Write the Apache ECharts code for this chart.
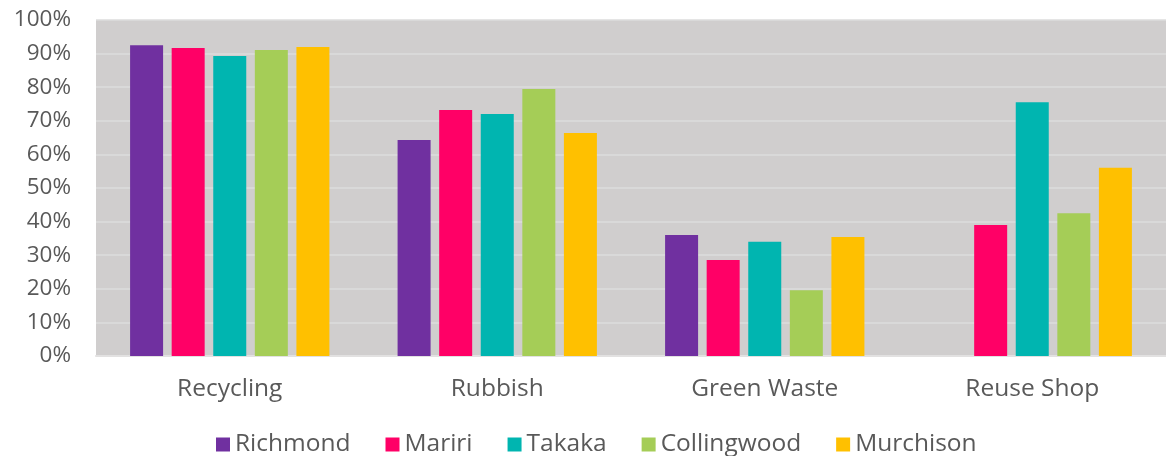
<!DOCTYPE html>
<html>
<head>
<meta charset="utf-8">
<script src="https://cdn.jsdelivr.net/npm/echarts@6/dist/echarts.min.js"></script>
<style>html,body{margin:0;padding:0;background:#fff;}#c{width:1166px;height:456px;}</style>
</head>
<body>
<div id="c"></div>
<script>
const categories = ['Recycling', 'Rubbish', 'Green Waste', 'Reuse Shop'];
const seriesNames = ['Richmond', 'Mariri', 'Takaka', 'Collingwood', 'Murchison'];
const richmond = [92.5, 64.3, 36.0, null];
const mariri = [91.7, 73.2, 28.6, 39.0];
const takaka = [89.3, 72.0, 34.0, 75.5];
const collingwood = [91.1, 79.5, 19.6, 42.5];
const murchison = [92.0, 66.4, 35.4, 56.0];
const yTicks = [0, 10, 20, 30, 40, 50, 60, 70, 80, 90, 100];

const colors = ['#7030a0', '#ff0066', '#00b5b0', '#a5cd57', '#ffc000'];
const values = [richmond, mariri, takaka, collingwood, murchison];
const FONT = 'Open Sans';
const chart = echarts.init(document.getElementById('c'));
chart.setOption({
  animation: false,
  textStyle: { fontFamily: FONT },
  grid: { left: 96, right: 0, top: 20, bottom: 100, show: true, backgroundColor: '#d0cece', borderWidth: 0 },
  legend: {
    top: 432, left: 216,
    padding: 0,
    itemWidth: 14, itemHeight: 14, itemGap: 35,
    icon: 'rect',
    textStyle: { fontSize: 24.5, color: '#595959', fontFamily: FONT },
    data: seriesNames
  },
  xAxis: {
    type: 'category', data: categories,
    axisLine: { show: true, lineStyle: { color: '#e2e1e1', width: 2 } },
    axisTick: { show: false },
    axisLabel: { fontSize: 24.5, color: '#595959', margin: 21 }
  },
  yAxis: {
    type: 'value', min: yTicks[0], max: yTicks[yTicks.length - 1], interval: 10,
    axisLine: { show: false }, axisTick: { show: false },
    splitLine: { lineStyle: { color: '#dddcdc', width: 1.5 } },
    axisLabel: { fontSize: 22.5, color: '#595959', margin: 25, formatter: '{value}%' }
  },
  series: seriesNames.map((n, i) => ({
    name: n, type: 'bar', data: values[i],
    barWidth: 33, barGap: '26%',
    itemStyle: { color: colors[i] }
  }))
});
</script>
</body>
</html>
